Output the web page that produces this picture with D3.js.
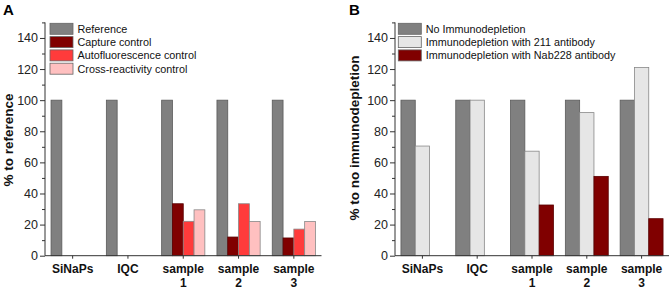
<!DOCTYPE html>
<html>
<head>
<meta charset="utf-8">
<script src="https://cdn.jsdelivr.net/npm/d3@7"></script>
<style>
  body { margin: 0; background: #fff; }
  svg { display: block; font-family: Arial, "Liberation Sans", sans-serif; }
</style>
</head>
<body>
<svg id="chart" width="669" height="289"></svg>
<script>
// categories shared by both panels
const categories = [['SiNaPs'], ['IQC'], ['sample', '1'], ['sample', '2'], ['sample', '3']];
const yTicks = [0, 20, 40, 60, 80, 100, 120, 140];
const yMinor = [10, 30, 50, 70, 90, 110, 130, 150];

// panel A
const seriesA = ['Reference', 'Capture control', 'Autofluorescence control', 'Cross-reactivity control'];
const colorsA = ['#808080', '#800000', '#ff3b3b', '#ffc0c0'];
const reference = [100, 100, 100, 100, 100];
const capture = [null, null, 33.4, 12, 11.4];
const autofluo = [null, null, 22.1, 33.4, 17.1];
const crossReact = [null, null, 29.5, 22, 22];

// panel B
const seriesB = ['No Immunodepletion', 'Immunodepletion with 211 antibody', 'Immunodepletion with Nab228 antibody'];
const colorsB = ['#808080', '#e6e6e6', '#800000'];
const noDepletion = [100, 100, 100, 100, 100];
const depl211 = [70.5, 100, 67.2, 92, 121];
const deplNab228 = [null, null, 32.6, 51, 23.8];

const svg = d3.select('#chart');

const y = d3.scaleLinear().domain([0, 150]).range([255.7, 22.4]);

function drawPanel(opt) {
  const g = svg.append('g');
  const x = d3.scaleBand().domain(d3.range(categories.length)).range(opt.xRange).paddingInner(0).paddingOuter(0);
  const groupW = opt.barW * opt.series.length;
  const xs = d3.scaleBand().domain(d3.range(opt.series.length)).range([0, groupW]);

  // bars
  opt.values.forEach((vals, si) => {
    g.append('g')
      .selectAll('rect')
      .data(vals.map((v, i) => ({ v, i })).filter(d => d.v !== null))
      .join('rect')
      .attr('x', d => x(d.i) + (x.bandwidth() - groupW) / 2 + xs(si))
      .attr('y', d => y(d.v))
      .attr('width', xs.bandwidth())
      .attr('height', d => y(0) - y(d.v))
      .attr('fill', opt.colors[si])
      .attr('stroke', si === 0 ? '#5a5a5a' : (opt.colors[si] === '#800000' ? '#5a0000' : '#888'))
      .attr('stroke-width', 0.8);
  });

  // y axis
  const yAxis = g.append('g')
    .attr('transform', `translate(${opt.xRange[0]},0)`)
    .call(d3.axisLeft(y).tickValues(yTicks).tickSize(5).tickPadding(2));
  g.append('g')
    .attr('transform', `translate(${opt.xRange[0]},0)`)
    .call(d3.axisLeft(y).tickValues(yMinor).tickSize(3).tickFormat(''))
    .call(a => a.select('.domain').remove());
  yAxis.select('.domain').attr('d', `M0,${y(150)}V${y(0)}`);
  yAxis.selectAll('text').attr('font-size', 12.5).attr('fill', '#222');

  // x axis
  const xAxis = g.append('g')
    .attr('transform', `translate(0,${y(0)})`)
    .call(d3.axisBottom(x).tickSize(3).tickFormat(''));
  xAxis.select('.domain').attr('d', `M${opt.xRange[0]},0H${opt.xRange[1]}`);
  g.selectAll('.domain, .tick line').attr('stroke', '#333');

  // category labels
  categories.forEach((lines, i) => {
    const t = g.append('text')
      .attr('x', x(i) + x.bandwidth() / 2)
      .attr('y', 273)
      .attr('text-anchor', 'middle')
      .attr('font-weight', 'bold')
      .attr('font-size', 12)
      .attr('fill', '#111');
    lines.forEach((l, k) => {
      t.append('tspan').attr('x', x(i) + x.bandwidth() / 2).attr('dy', k === 0 ? 0 : 14).text(l);
    });
  });

  // y label
  g.append('text')
    .attr('transform', `translate(${opt.yLabelX},${opt.yLabelY}) rotate(-90)`)
    .attr('text-anchor', 'middle')
    .attr('dominant-baseline', 'central')
    .attr('font-weight', 'bold')
    .attr('font-size', 13.5)
    .attr('fill', '#111')
    .text(opt.yLabel);

  // panel letter
  g.append('text')
    .attr('x', opt.letterX)
    .attr('y', 15)
    .attr('font-weight', 'bold')
    .attr('font-size', 15)
    .text(opt.letter);

  // legend
  const lg = g.append('g').attr('transform', `translate(${opt.legendX},23.3)`);
  opt.series.forEach((s, i) => {
    lg.append('rect')
      .attr('x', 0).attr('y', i * 13.3)
      .attr('width', 23).attr('height', 11)
      .attr('fill', opt.colors[i])
      .attr('stroke', '#666').attr('stroke-width', 0.8);
    lg.append('text')
      .attr('x', 27.5).attr('y', i * 13.3 + 5.5)
      .attr('dominant-baseline', 'central')
      .attr('font-size', 10.8)
      .attr('fill', '#111')
      .text(s);
  });
}

drawPanel({
  series: seriesA, colors: colorsA,
  values: [reference, capture, autofluo, crossReact],
  xRange: [45, 321.5], barW: 10.8,
  yLabel: '% to reference', yLabelX: 8, yLabelY: 140,
  letter: 'A', letterX: 3, legendX: 50
});

drawPanel({
  series: seriesB, colors: colorsB,
  values: [noDepletion, depl211, deplNab228],
  xRange: [395, 669], barW: 14.3,
  yLabel: '% to no immunodepletion', yLabelX: 354, yLabelY: 138,
  letter: 'B', letterX: 349, legendX: 398.3
});
</script>
</body>
</html>
